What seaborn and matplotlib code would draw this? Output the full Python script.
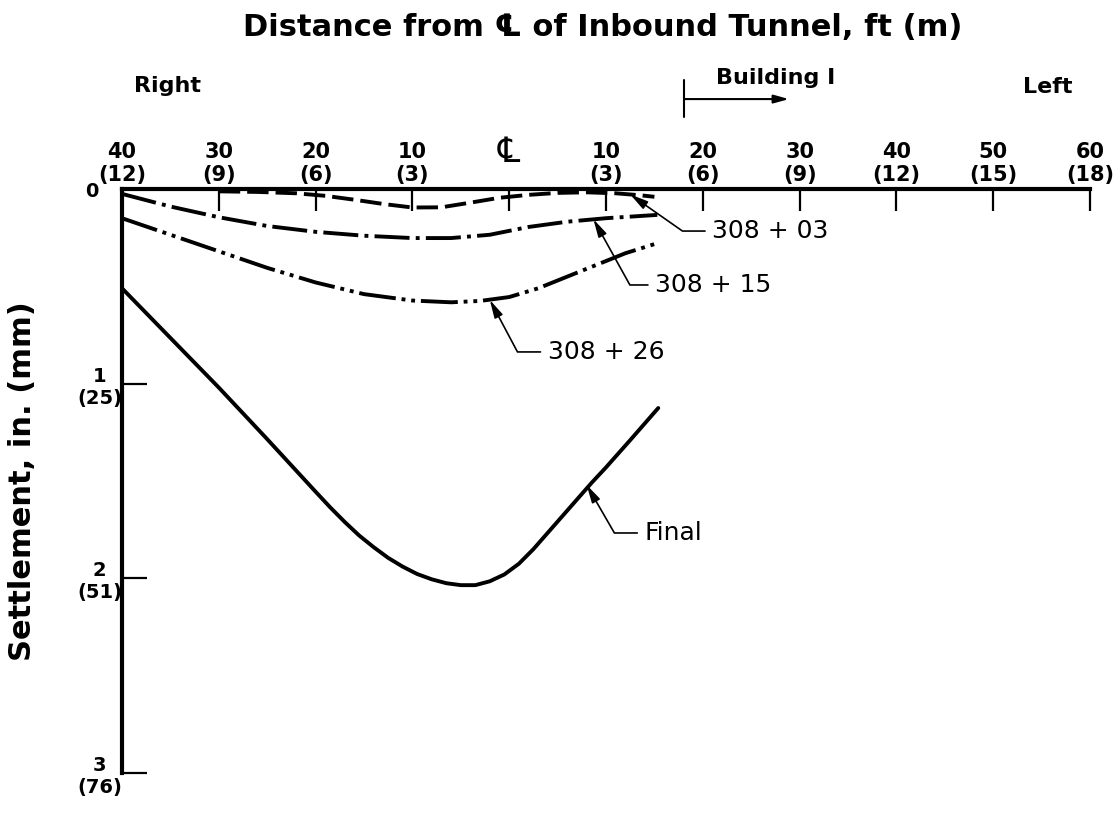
import numpy as np
import pandas as pd
import seaborn as sns
import matplotlib.pyplot as plt

# distance from CL of inbound tunnel in ft (negative = right side of CL)
# settlement in inches
x_final = [-40, -35, -30, -25, -20, -18.5, -17, -15.5, -14, -12.5, -11, -9.5, -8, -6.5, -5,
           -3.5, -2, -0.5, 1, 2.5, 4, 5.5, 7, 8.5, 10, 12.5, 15.4]
y_final = [0.51, 0.765, 1.02, 1.285, 1.555, 1.635, 1.71, 1.78, 1.84, 1.895, 1.94, 1.978, 2.005,
           2.025, 2.035, 2.035, 2.015, 1.98, 1.925, 1.85, 1.765, 1.68, 1.595, 1.51, 1.43, 1.29,
           1.125]

x_26 = [-40, -35, -30, -25, -20, -15, -10, -6, -3, 0, 3, 6, 9, 12, 15.2]
y_26 = [0.15, 0.235, 0.32, 0.405, 0.48, 0.54, 0.573, 0.582, 0.575, 0.555, 0.51, 0.45,
        0.39, 0.33, 0.28]

x_15 = [-40, -35, -30, -25, -20, -15, -10, -6, -2, 2, 6, 10, 15.3]
y_15 = [0.025, 0.09, 0.145, 0.19, 0.22, 0.24, 0.252, 0.252, 0.235, 0.195, 0.168, 0.15, 0.133]

x_03 = [-30, -26, -22, -19, -16, -13, -10, -7, -4, -1, 2, 5, 8, 11, 13.5, 15]
y_03 = [0.012, 0.015, 0.022, 0.035, 0.055, 0.077, 0.095, 0.094, 0.07, 0.045, 0.03, 0.02,
        0.017, 0.022, 0.032, 0.04]

# tick labels
x_ticks = [-40, -30, -20, -10, 0, 10, 20, 30, 40, 50, 60]
x_ft = ['40', '30', '20', '10', '', '10', '20', '30', '40', '50', '60']
x_m = ['(12)', '(9)', '(6)', '(3)', '', '(3)', '(6)', '(9)', '(12)', '(15)', '(18)']
y_ticks = [0, 1, 2, 3]
y_in = ['', '1', '2', '3']
y_mm = ['', '(25)', '(51)', '(76)']

#Building one long table for seaborn
df = pd.concat([
    pd.DataFrame({'dist': x_final, 'settle': y_final, 'station': 'Final'}),
    pd.DataFrame({'dist': x_26, 'settle': y_26, 'station': '308 + 26'}),
    pd.DataFrame({'dist': x_15, 'settle': y_15, 'station': '308 + 15'}),
    pd.DataFrame({'dist': x_03, 'settle': y_03, 'station': '308 + 03'}),
])

sns.set_style('ticks', rc={'axes.edgecolor': 'black', 'text.color': 'black',
                           'axes.labelcolor': 'black', 'xtick.color': 'black',
                           'ytick.color': 'black'})
plt.rcParams['font.family'] = ['DejaVu Sans']

fig = plt.figure(figsize=(11.19, 8.15), dpi=100)
ax = fig.add_axes([0.10903, 0.05153, 0.86506, 0.71656])

dash_styles = {'Final': '',
               '308 + 26': (9.5, 1.5, 1, 1.5, 1, 1.5),
               '308 + 15': (9, 1.6, 1, 1.6),
               '308 + 03': (5.5, 1.8)}
sns.lineplot(data=df, x='dist', y='settle', style='station', dashes=dash_styles,
             color='black', lw=2.8, estimator=None, sort=False, legend=False, ax=ax)

ax.set_xlim(-40, 60)
ax.set_ylim(3, 0)
sns.despine(ax=ax, top=False, right=True, bottom=True, left=False)
for s in ['top', 'left']:
    ax.spines[s].set_linewidth(3)

ax.xaxis.tick_top()
ax.set_xticks(x_ticks, labels=[a + '\n' + b if a else '' for a, b in zip(x_ft, x_m)])
ax.tick_params(axis='x', direction='in', length=16, width=1.6, pad=3, labelsize=15)
ax.set_yticks(y_ticks, labels=[a + '\n' + b if b else a for a, b in zip(y_in, y_mm)])
ax.tick_params(axis='y', direction='in', length=18, width=1.6, pad=16, labelsize=14)
for lab in ax.get_xticklabels():
    lab.set_fontweight('bold')
for lab in ax.get_yticklabels():
    lab.set_ha('center')
    lab.set_multialignment('center')
    lab.set_fontweight('bold')
ax.set_xlabel('')
ax.set_ylabel('Settlement, in. (mm)', fontsize=22, fontweight='bold')
ax.yaxis.set_label_coords(-0.088, 0.5)

# the zero of the settlement axis sits just left of the (12) label
ax.annotate('0', xy=(0, 0), xycoords=('axes fraction', 'data'), xytext=(-30, -2),
            textcoords='offset pixels', ha='center', va='center',
            fontsize=14, fontweight='bold', annotation_clip=False)

# centre line symbol in place of the 0 tick label
ax.text(0, -0.19, '\u2104', ha='center', va='center', fontsize=25, clip_on=False)

fig.text(0.539, 0.966, 'Distance from \u2104 of Inbound Tunnel, ft (m)',
         ha='center', va='center', fontsize=22, fontweight='bold')
ax.text(-35.35, -0.529, 'Right', ha='center', va='center', fontsize=16, fontweight='bold')
ax.text(55.66, -0.524, 'Left', ha='center', va='center', fontsize=16, fontweight='bold')
ax.text(21.4, -0.572, 'Building I', ha='left', va='center', fontsize=16, fontweight='bold')
ax.plot([18.06, 18.06], [-0.56, -0.37], color='black', lw=1.5, clip_on=False)
ax.annotate('', xy=(28.9, -0.462), xytext=(18.06, -0.462), annotation_clip=False,
            arrowprops=dict(arrowstyle='-|>,head_length=0.9,head_width=0.25',
                            color='black', lw=1.5, shrinkA=0, shrinkB=0))

#Leader lines with small arrow heads pointing at each curve
leaders = [('308 + 03', (12.5, 0.028), (21.0, 0.216), -35),
           ('308 + 15', (8.7, 0.155), (15.1, 0.493), -61),
           ('308 + 26', (-2.0, 0.57), (4.0, 0.837), -62),
           ('Final', (8.0, 1.52), (14.0, 1.767), -60)]
for label, tip, txt, ang in leaders:
    ax.annotate(label, xy=tip, xytext=txt, ha='left', va='center', fontsize=18,
                arrowprops=dict(arrowstyle='-|>,head_length=0.6,head_width=0.15',
                                color='black', lw=1.2, relpos=(0, 0.5),
                                shrinkA=3, shrinkB=0,
                                connectionstyle='angle,angleA=0,angleB=%d,rad=0' % ang))

fig.savefig('out.png', dpi=100)
